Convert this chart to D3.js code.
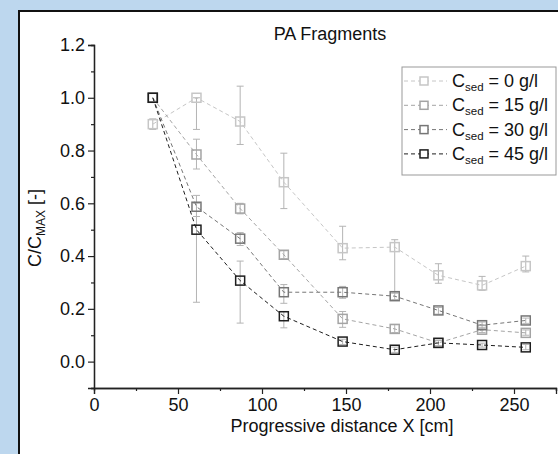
<!DOCTYPE html>
<html>
<head>
<meta charset="utf-8">
<script src="https://cdn.jsdelivr.net/npm/d3@7"></script>
<style>
  html, body { margin: 0; padding: 0; background: #bdd7ee; }
  svg { display: block; font-family: "Liberation Sans", Arial, sans-serif; }
</style>
</head>
<body>
<div id="chart"></div>
<script>
  var width = 558, height = 454;

  // distances [cm]
  var distances = [35, 61, 87, 113, 148, 179, 205, 231, 257];
  var seriesNames = ["0", "15", "30", "45"];
  var seriesColors = ["#c6c6c6", "#a4a4a4", "#767676", "#1e1e1e"];

  var c0  = [0.90, 1.00, 0.91, 0.68, 0.43, 0.434, 0.327, 0.289, 0.362];
  var c15 = [1.00, 0.785, 0.58, 0.405, 0.162, 0.124, 0.071, 0.121, 0.109];
  var c30 = [1.00, 0.587, 0.466, 0.263, 0.263, 0.248, 0.194, 0.138, 0.156];
  var c45 = [1.00, 0.50, 0.307, 0.172, 0.076, 0.045, 0.071, 0.063, 0.054];

  // error bars: lower and upper ends
  var c0Low   = [0.88, 0.88, 0.823, 0.58, 0.386, 0.26, 0.297, 0.27, 0.34];
  var c0High  = [0.92, 1.00, 1.044, 0.79, 0.513, 0.462, 0.371, 0.323, 0.40];
  var c15Low  = [1.00, 0.73, 0.56, 0.39, 0.13, 0.11, 0.06, 0.11, 0.10];
  var c15High = [1.00, 0.843, 0.60, 0.42, 0.19, 0.14, 0.08, 0.13, 0.12];
  var c30Low  = [1.00, 0.55, 0.44, 0.221, 0.24, 0.235, 0.18, 0.125, 0.145];
  var c30High = [1.00, 0.63, 0.489, 0.292, 0.285, 0.26, 0.205, 0.15, 0.165];
  var c45Low  = [1.00, 0.225, 0.146, 0.128, 0.065, 0.035, 0.06, 0.055, 0.045];
  var c45High = [1.00, 0.60, 0.381, 0.19, 0.085, 0.055, 0.08, 0.07, 0.065];

  var values = [c0, c15, c30, c45];
  var lows = [c0Low, c15Low, c30Low, c45Low];
  var highs = [c0High, c15High, c30High, c45High];

  var xMajor = [0, 50, 100, 150, 200, 250];
  var xMinor = [25, 75, 125, 175, 225, 275];
  var yMajor = [0.0, 0.2, 0.4, 0.6, 0.8, 1.0, 1.2];
  var yMinor = [-0.1, 0.1, 0.3, 0.5, 0.7, 0.9, 1.1];

  var svg = d3.select("#chart").append("svg")
      .attr("width", width)
      .attr("height", height);

  // white panel
  svg.append("rect")
      .attr("x", 19).attr("y", 11)
      .attr("width", width).attr("height", height)
      .attr("fill", "#fff")
      .attr("stroke", "#111")
      .attr("stroke-width", 2);

  var x = d3.scaleLinear().domain([0, 275]).range([94, 556]);
  var y = d3.scaleLinear().domain([-0.1, 1.2]).range([388, 45]);

  // axes
  var xAxis = svg.append("g").attr("transform", "translate(0," + y(-0.1) + ")");
  xAxis.call(d3.axisBottom(x).tickValues(xMajor).tickSize(6).tickPadding(4).tickFormat(d3.format("d")));
  xAxis.append("g").call(d3.axisBottom(x).tickValues(xMinor).tickSize(3).tickFormat(""));

  var yAxis = svg.append("g").attr("transform", "translate(" + x(0) + ",0)");
  yAxis.call(d3.axisLeft(y).tickValues(yMajor).tickSize(6).tickPadding(3).tickFormat(d3.format(".1f")));
  yAxis.append("g").call(d3.axisLeft(y).tickValues(yMinor).tickSize(3).tickFormat(""));

  svg.selectAll(".domain").attr("stroke", "#222").attr("stroke-width", 1.3);
  svg.selectAll(".tick line").attr("stroke", "#222").attr("stroke-width", 1.2);
  svg.selectAll(".tick text").attr("font-size", 18).attr("fill", "#111")
      .attr("font-family", "Liberation Sans, Arial, sans-serif");

  // title
  svg.append("text")
      .attr("x", 330).attr("y", 40)
      .attr("text-anchor", "middle")
      .attr("font-size", 18)
      .attr("fill", "#111")
      .text("PA Fragments");

  // axis labels
  svg.append("text")
      .attr("x", 342).attr("y", 432)
      .attr("text-anchor", "middle")
      .attr("font-size", 18)
      .attr("fill", "#111")
      .text("Progressive distance X [cm]");

  var yl = svg.append("text")
      .attr("transform", "translate(41,228) rotate(-90)")
      .attr("text-anchor", "middle")
      .attr("font-size", 18)
      .attr("fill", "#111");
  yl.append("tspan").text("C/C");
  yl.append("tspan").attr("font-size", 12).attr("dy", 4).text("MAX");
  yl.append("tspan").attr("dy", -4).text(" [-]");

  var line = d3.line()
      .x(function(d, i) { return x(distances[i]); })
      .y(function(d) { return y(d); });

  // error bars
  values.forEach(function(vals, s) {
    var g = svg.append("g");
    distances.forEach(function(dx, i) {
      var lo = lows[s][i], hi = highs[s][i];
      if (hi - lo < 0.001) return;
      var px = x(dx);
      g.append("line").attr("x1", px).attr("x2", px)
          .attr("y1", y(lo)).attr("y2", y(hi))
          .attr("stroke", "#b4b4b4").attr("stroke-width", 1);
      [lo, hi].forEach(function(v) {
        g.append("line").attr("x1", px - 3.5).attr("x2", px + 3.5)
            .attr("y1", y(v)).attr("y2", y(v))
            .attr("stroke", "#b4b4b4").attr("stroke-width", 1);
      });
    });
  });

  // lines and markers
  values.forEach(function(vals, s) {
    svg.append("path")
        .datum(vals)
        .attr("d", line)
        .attr("fill", "none")
        .attr("stroke", seriesColors[s])
        .attr("stroke-width", 1)
        .attr("stroke-dasharray", "4,3");
  });
  values.forEach(function(vals, s) {
    svg.selectAll(".m" + s)
        .data(vals)
      .enter().append("rect")
        .attr("x", function(d, i) { return x(distances[i]) - 4.5; })
        .attr("y", function(d) { return y(d) - 4.5; })
        .attr("width", 9).attr("height", 9)
        .attr("fill", "none")
        .attr("stroke", seriesColors[s])
        .attr("stroke-width", 1.5);
  });

  // legend
  var legend = svg.append("g");
  legend.append("rect")
      .attr("x", 402).attr("y", 67)
      .attr("width", 154).attr("height", 108)
      .attr("fill", "#fff")
      .attr("stroke", "#999")
      .attr("stroke-width", 1);

  seriesNames.forEach(function(name, s) {
    var ly = 81 + s * 24.3;
    legend.append("line")
        .attr("x1", 404).attr("x2", 447)
        .attr("y1", ly).attr("y2", ly)
        .attr("stroke", seriesColors[s])
        .attr("stroke-dasharray", "4,3");
    legend.append("rect")
        .attr("x", 420).attr("y", ly - 4)
        .attr("width", 8).attr("height", 8)
        .attr("fill", "#fff")
        .attr("stroke", seriesColors[s])
        .attr("stroke-width", 1.5);
    var t = legend.append("text")
        .attr("x", 452).attr("y", ly + 6)
        .attr("font-size", 18)
        .attr("fill", "#111");
    t.append("tspan").text("C");
    t.append("tspan").attr("font-size", 11.5).attr("dy", 4).text("sed");
    t.append("tspan").attr("dy", -4).text(" = " + name + " g/l");
  });
</script>
</body>
</html>
